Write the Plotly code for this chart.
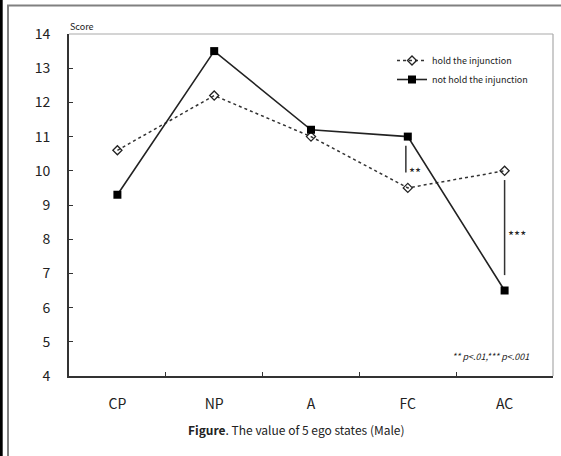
import plotly.graph_objects as go

categories = ["CP", "NP", "A", "FC", "AC"]
hold = [10.6, 12.2, 11.0, 9.5, 10.0]
not_hold = [9.3, 13.5, 11.2, 11.0, 6.5]
y_ticks = [4, 5, 6, 7, 8, 9, 10, 11, 12, 13, 14]

sig_index = [3, 4]
sig_marks = ["**", "***"]
sig_label_y = [9.95, 8.1]

FONT = "Noto Sans CJK JP, Noto Sans, sans-serif"

fig = go.Figure()
fig.add_trace(go.Scatter(
    x=categories, y=hold, name="hold the injunction",
    mode="lines+markers",
    line=dict(color="#333333", width=1.5, dash="dot"),
    marker=dict(symbol="diamond-open", size=7, color="#222222", line=dict(width=1.3)),
))
fig.add_trace(go.Scatter(
    x=categories, y=not_hold, name="not hold the injunction",
    mode="lines+markers",
    line=dict(color="#222222", width=1.6),
    marker=dict(symbol="square", size=8, color="#000000"),
))

shapes = []
# significance bars
for i, lbl, ly in zip(sig_index, sig_marks, sig_label_y):
    hi = max(hold[i], not_hold[i])
    lo = min(hold[i], not_hold[i])
    xoff = -0.02 if i == 3 else 0.0
    shapes.append(dict(type="line", xref="x", yref="y",
                       x0=i + xoff, x1=i + xoff, y0=hi - 0.27, y1=lo + 0.45,
                       line=dict(color="#333333", width=1.5)))
    fig.add_annotation(x=i + xoff, y=ly, xref="x", yref="y", text=lbl,
                       showarrow=False, xanchor="left", xshift=1,
                       font=dict(family=FONT, size=13, color="#222222"))

# plot frame top/right (light gray)
shapes.append(dict(type="line", xref="paper", yref="paper", x0=0, x1=1, y0=1, y1=1,
                   line=dict(color="#aaaaaa", width=1.2)))
shapes.append(dict(type="line", xref="paper", yref="paper", x0=1, x1=1, y0=0, y1=1,
                   line=dict(color="#aaaaaa", width=1.2)))
# outer image frame
W, H = 561, 456
L, R, T, B = 69, 8, 34, 80
pw, ph = W - L - R, H - T - B
def px(x):
    return (x - L) / pw
def py(y):
    return (H - B - y) / ph
shapes.append(dict(type="line", xref="paper", yref="paper", x0=px(1.2), x1=px(1.2), y0=py(460), y1=py(-4),
                   line=dict(color="#000000", width=3), layer="above"))
shapes.append(dict(type="line", xref="paper", yref="paper", x0=px(8), x1=px(8), y0=py(5.5), y1=py(460),
                   line=dict(color="#808080", width=2)))
shapes.append(dict(type="line", xref="paper", yref="paper", x0=px(7), x1=px(565), y0=py(5.5), y1=py(5.5),
                   line=dict(color="#808080", width=2)))

fig.add_annotation(xref="paper", yref="paper", x=px(68), y=py(26), text="Score",
                   showarrow=False, xanchor="left", yanchor="middle",
                   font=dict(family=FONT, size=9, color="#222222"))
fig.add_annotation(xref="paper", yref="paper", x=px(531), y=py(356),
                   text="<i>** p&lt;.01,*** p&lt;.001</i>",
                   showarrow=False, xanchor="right", yanchor="middle",
                   font=dict(family=FONT, size=9, color="#222222"))
fig.add_annotation(xref="paper", yref="paper", x=px(296.5), y=py(429),
                   text="<b>Figure</b>. The value of 5 ego states (Male)",
                   showarrow=False, xanchor="center", yanchor="middle",
                   font=dict(family=FONT, size=12, color="#222222"))

fig.update_layout(
    width=W, height=H,
    margin=dict(l=L, r=R, t=T, b=B),
    paper_bgcolor="white", plot_bgcolor="white",
    font=dict(family=FONT, color="#222222"),
    shapes=shapes,
    showlegend=True,
    legend=dict(x=px(392), y=py(46), xanchor="left", yanchor="top",
                bgcolor="rgba(0,0,0,0)", font=dict(family=FONT, size=9),
                itemwidth=30, tracegroupgap=0),
    xaxis=dict(type="category", range=[-0.5, 4.5], showgrid=False,
               showline=True, linecolor="#333333", linewidth=2,
               ticks="inside", ticklen=4, tickcolor="#333333",
               tickson="boundaries",
               tickfont=dict(family=FONT, size=14, color="#222222"),
               ticklabelstandoff=14, zeroline=False, fixedrange=True),
    yaxis=dict(range=[4, 14], tickvals=y_ticks, showgrid=False,
               showline=True, linecolor="#333333", linewidth=2,
               ticks="inside", ticklen=4, tickcolor="#333333",
               tickfont=dict(family=FONT, size=14, color="#222222"),
               ticklabelstandoff=14, zeroline=False, fixedrange=True),
)

fig.write_html("out.html", config={"displayModeBar": False},
               post_script="document.body.style.margin='0px';document.body.style.overflow='hidden';")
